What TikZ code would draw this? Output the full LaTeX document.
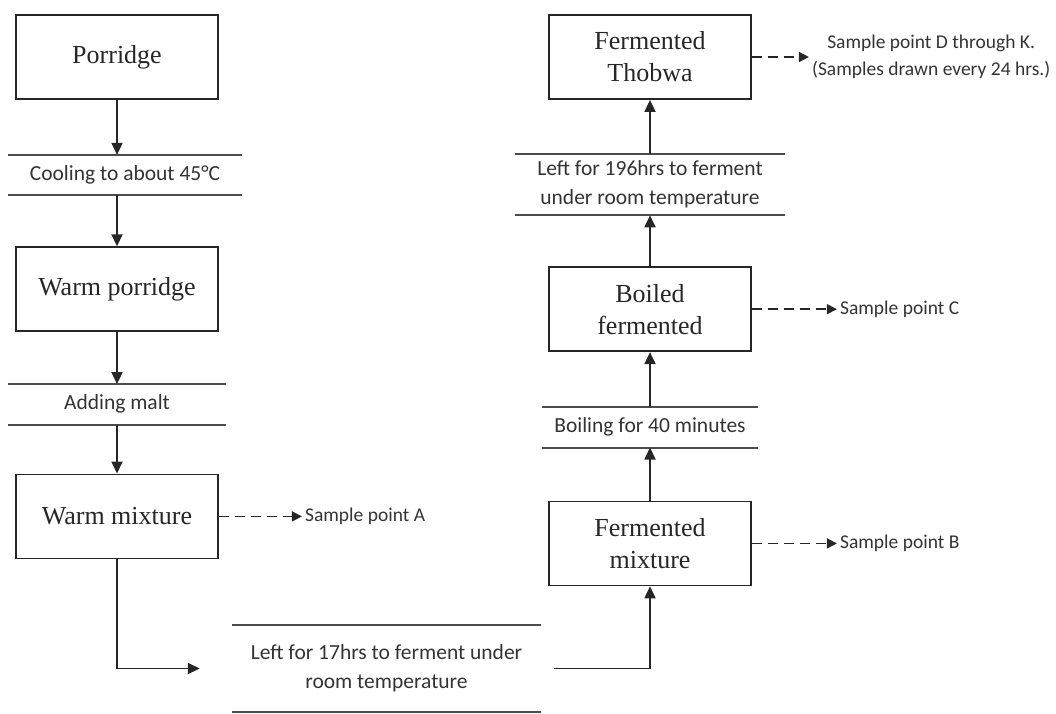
\documentclass[tikz,border=0pt]{standalone}
\usepackage{fontspec}
\usepackage{tikz}
\usetikzlibrary{arrows.meta, positioning, calc}
\newfontfamily\boxfont{Liberation Serif}
\newfontfamily\stagefont{Carlito}

\begin{document}
\begin{tikzpicture}[
        x=1pt, y=1pt,
        box/.style={draw=black!85, line width=1.8pt, minimum width=202pt, minimum height=84pt, align=center, text=black!85, font=\boxfont\fontsize{26}{32}\selectfont},
        stage/.style={minimum height=40pt, align=center, inner sep=0pt, text=black!80, font=\stagefont\fontsize{21.5}{29}\selectfont},
        sample/.style={align=center, inner sep=3pt, text=black!80, font=\stagefont\fontsize{19.5}{27}\selectfont},
        flow/.style={draw=black!85, line width=1.8pt, -{Triangle[length=12pt, width=11pt]}},
        probe/.style={draw=black!85, line width=1.6pt, dash pattern=on 10pt off 6pt, -{Triangle[length=10pt, width=10pt]}},
        rule/.style={draw=black!70, line width=2pt},
        node distance=52pt
    ]
        \useasboundingbox (0,0) rectangle (1056,713);

        \node[box] (porridge) at (117,656) {Porridge};
        \node[stage, below=55pt of porridge, xshift=8pt, minimum width=234pt] (cool) {Cooling to about 45°C};
        \node[box, below=51pt of cool, xshift=-8pt] (warm) {Warm porridge};
        \node[stage, below=52pt of warm, minimum width=218pt] (malt) {Adding malt};
        \node[box, below=49pt of malt] (mix) {Warm mixture};

        \node[stage, minimum width=309pt, minimum height=87pt] (long17) at (386.5,44.5) {Left for 17hrs to ferment under\\room temperature};

        \node[box] (thobwa) at (650,656) {Fermented\\Thobwa};
        \node[stage, below=54pt of thobwa, minimum width=269pt, minimum height=61pt] (long196) {Left for 196hrs to ferment\\under room temperature};
        \node[box, below=51pt of long196] (boiled) {Boiled\\fermented};
        \node[stage, below=55pt of boiled, minimum width=216pt] (boil) {Boiling for 40 minutes};
        \node[box, below=53pt of boil] (fmix) {Fermented\\mixture};

        \node[sample, right=83pt of mix] (sa) {Sample point A};
        \node[sample, right=85pt of fmix] (sb) {Sample point B};
        \node[sample, right=85pt of boiled] (sc) {Sample point C};
        \node[sample, right=57pt of thobwa] (sd) {Sample point D through K.\\(Samples drawn every 24 hrs.)};

        \foreach \s in {cool, malt, long17, long196, boil}
            \draw[rule] (\s.north west) -- (\s.north east) (\s.south west) -- (\s.south east);

        \draw[flow] (porridge) -- (porridge |- cool.north);
        \draw[flow] (warm |- cool.south) -- (warm);
        \draw[flow] (warm) -- (malt);
        \draw[flow] (malt) -- (mix);
        \draw[flow] (mix.south) |- ([xshift=-32pt]long17.west);
        \draw[flow] ([xshift=13pt]long17.east) -| (fmix.south);
        \draw[flow] (fmix) -- (boil);
        \draw[flow] (boil) -- (boiled);
        \draw[flow] (boiled) -- (long196);
        \draw[flow] (long196) -- (thobwa);

        \draw[probe] (mix) -- (sa);
        \draw[probe] (fmix) -- (sb);
        \draw[probe] (boiled) -- (sc);
        \draw[probe] (thobwa) -- (sd);
    \end{tikzpicture}
\end{document}
